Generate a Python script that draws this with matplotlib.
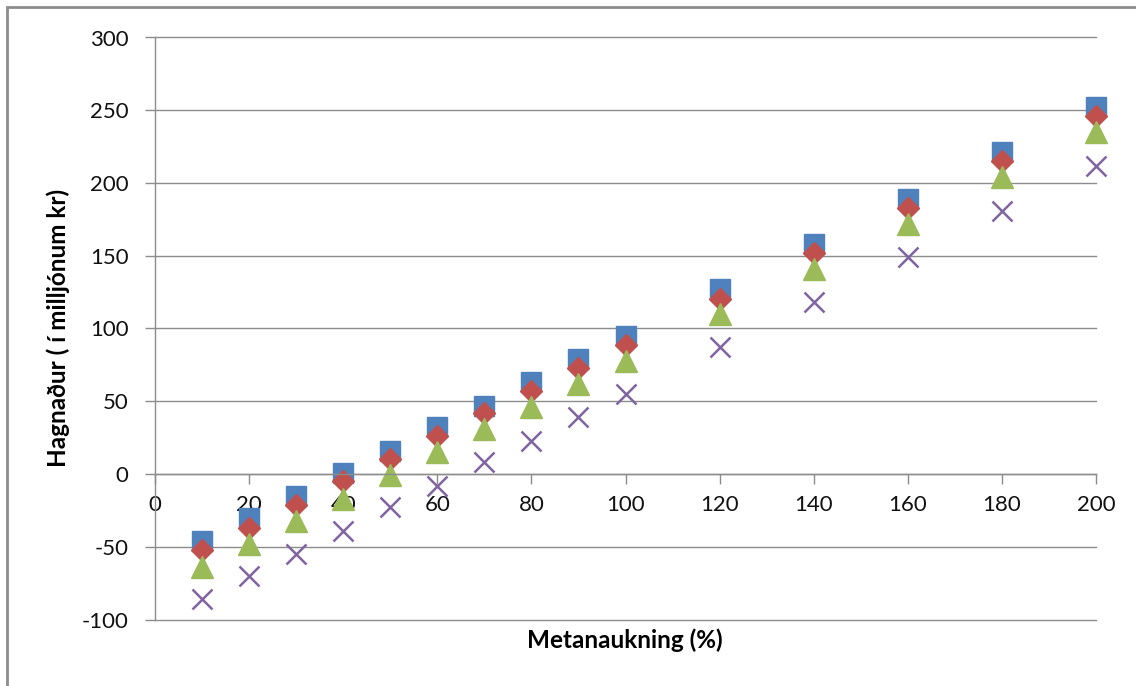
import numpy as np
import matplotlib
matplotlib.use('Agg')
import matplotlib.pyplot as plt
from matplotlib.patches import Rectangle

plt.rcParams['font.family'] = ['Lato', 'DejaVu Sans']
plt.rcParams['axes.unicode_minus'] = False

# metane increase (%) and profit for four scenarios (million kr)
metan = [10, 20, 30, 40, 50, 60, 70, 80, 90, 100, 120, 140, 160, 180, 200]
hagn_1 = [-46, -30, -15, 1, 16, 32, 47, 63, 79, 95, 127, 158, 189, 221, 252]
hagn_2 = [-52, -37, -21, -5, 10, 26, 42, 57, 73, 89, 120, 152, 183, 215, 246]
hagn_3 = [-64, -48, -32, -17, -1, 15, 31, 46, 62, 78, 110, 141, 172, 204, 235]
hagn_4 = [-86, -70, -55, -39, -23, -8, 8, 23, 39, 55, 87, 118, 149, 181, 212]

xticks = np.arange(0, 201, 20)
yticks = np.arange(-100, 301, 50)

grey = '#8c8c8c'

fig = plt.figure(figsize=(11.36, 6.86), dpi=100)
ax = fig.add_axes([155/1136, 1 - 619.5/686, 941/1136, 582/686])

ax.plot(metan, hagn_1, ls='none', marker='s', ms=15, c='#4F81BD', mec='#4F81BD',
        clip_on=False)
ax.plot(metan, hagn_2, ls='none', marker='D', ms=10.7, c='#C0504D', mec='#C0504D',
        clip_on=False)
ax.plot(metan, hagn_3, ls='none', marker='^', ms=16, c='#9BBB59', mec='#9BBB59',
        clip_on=False)
ax.plot(metan, hagn_4, ls='none', marker='x', ms=14, c='#8064A2', mew=1.8,
        clip_on=False)

ax.set_xlim(0, 200)
ax.set_ylim(-100, 300)
ax.set_xticks(xticks)
ax.set_yticks(yticks)

# x axis crosses at zero, horizontal grid only
ax.spines['bottom'].set_position(('data', 0))
ax.spines['top'].set_visible(False)
ax.spines['right'].set_visible(False)
for s in ('bottom', 'left'):
    ax.spines[s].set_color(grey)
    ax.spines[s].set_linewidth(1.0)
ax.yaxis.grid(True, color=grey, lw=1.0, clip_on=False)
ax.set_axisbelow(True)

ax.tick_params(axis='both', colors=grey, labelcolor='#111111', labelsize=16,
               direction='out', length=7, width=1.0)
ax.tick_params(axis='y', pad=12)
ax.tick_params(axis='x', pad=8)

fig.text(625/1136, 1 - 640/686, 'Metanaukning (%)', ha='center', va='center',
         fontsize=17.5, fontweight='bold')
fig.text(58/1136, 1 - 328/686, 'Hagnaður ( í milljónum kr)', ha='center',
         va='center', rotation=90, fontsize=17.5, fontweight='bold')

# chart frame
fig.patches.append(Rectangle((7/1136, -0.1), 1.2, 1.1 - 7/686, fill=False,
                             edgecolor=grey, lw=2, transform=fig.transFigure))

fig.savefig('out.png', dpi=100)
